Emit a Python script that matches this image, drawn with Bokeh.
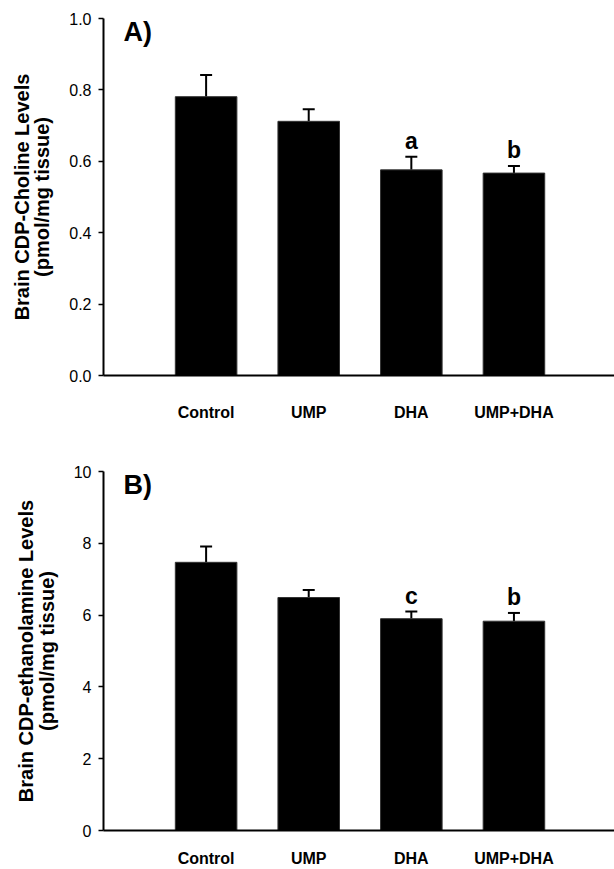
from bokeh.plotting import figure
from bokeh.models import (Range1d, FixedTicker, PrintfTickFormatter, Whisker,
                          TeeHead, ColumnDataSource)
from bokeh.layouts import column
from bokeh.embed import file_html
from bokeh.resources import INLINE
from bokeh.core.properties import value

# ---- data ----
categories = ["Control", "UMP", "DHA", "UMP+DHA"]
positions = [1, 2, 3, 4]

choline_mean = [0.781, 0.712, 0.576, 0.567]
choline_sem = [0.061, 0.034, 0.037, 0.020]
choline_letters = ["", "", "a", "b"]
choline_ticks = [0.0, 0.2, 0.4, 0.6, 0.8, 1.0]

ethanol_mean = [7.47, 6.49, 5.90, 5.83]
ethanol_sem = [0.44, 0.21, 0.20, 0.23]
ethanol_letters = ["", "", "c", "b"]
ethanol_ticks = [0, 2, 4, 6, 8, 10]

FONT = "Liberation Sans"


def make_panel(means, sems, letters, ticks, ymax, fmt, ytitle, panel,
               height, b_top, b_bottom, label_standoff):
    p = figure(width=614, height=height, output_backend="svg",
               toolbar_location=None, x_range=Range1d(0, 4.98),
               y_range=Range1d(0, ymax),
               min_border_left=103, min_border_right=0,
               min_border_top=b_top, min_border_bottom=b_bottom)
    p.outline_line_color = None
    p.xgrid.grid_line_color = None
    p.ygrid.grid_line_color = None
    p.background_fill_color = "white"
    p.border_fill_color = "white"

    src = ColumnDataSource(dict(
        x=positions, top=means,
        upper=[m + s for m, s in zip(means, sems)],
        letter=letters,
    ))
    p.vbar(x="x", top="top", width=0.6, source=src,
           fill_color="black", line_color="#333333", line_width=1)
    p.add_layout(Whisker(base="x", lower="top", upper="upper", source=src,
                         lower_head=None,
                         upper_head=TeeHead(size=12, line_width=2,
                                            line_color="black"),
                         line_width=2, line_color="black"))
    p.text(x="x", y="upper", text="letter", source=src,
           text_font=value(FONT), text_font_style="bold",
           text_font_size="23px", text_align="center",
           text_baseline="alphabetic", y_offset=-16, text_color="black")
    p.text(x=[0], y=[ymax], text=[panel], x_offset=20, y_offset=13,
           text_font=value(FONT), text_font_style="bold",
           text_font_size="27px", text_align="left",
           text_baseline="alphabetic", text_color="black")

    # x axis
    xa = p.xaxis[0]
    xa.ticker = FixedTicker(ticks=positions)
    xa.major_label_overrides = {pos: c for pos, c in zip(positions, categories)}
    xa.major_tick_line_color = None
    xa.minor_tick_line_color = None
    xa.axis_line_width = 2
    xa.axis_line_color = "black"
    xa.major_label_text_font = FONT
    xa.major_label_text_font_style = "bold"
    xa.major_label_text_font_size = "16px"
    xa.major_label_text_color = "black"
    xa.major_label_standoff = label_standoff

    # y axis
    ya = p.yaxis[0]
    ya.ticker = FixedTicker(ticks=ticks)
    ya.formatter = PrintfTickFormatter(format=fmt)
    ya.minor_tick_line_color = None
    ya.major_tick_in = 0
    ya.major_tick_out = 5
    ya.major_tick_line_width = 1.5
    ya.axis_line_width = 2
    ya.axis_line_color = "black"
    ya.major_label_text_font = FONT
    ya.major_label_text_font_size = "16px"
    ya.major_label_text_color = "black"
    ya.major_label_standoff = 7
    ya.axis_label = ytitle
    ya.axis_label_text_font = FONT
    ya.axis_label_text_font_style = "bold"
    ya.axis_label_text_font_size = "20px"
    ya.axis_label_text_color = "black"
    ya.axis_label_text_line_height = 0.92
    ya.axis_label_standoff = 13
    return p


pa = make_panel(choline_mean, choline_sem, choline_letters, choline_ticks,
                1.0, "%.1f",
                "Brain CDP-Choline Levels\n(pmol/mg tissue)", "A)",
                height=440, b_top=18, b_bottom=65, label_standoff=22)
pb = make_panel(ethanol_mean, ethanol_sem, ethanol_letters, ethanol_ticks,
                10, "%d",
                "Brain CDP-ethanolamine Levels\n(pmol/mg tissue)", "B)",
                height=429, b_top=31, b_bottom=39, label_standoff=13)

layout = column(pa, pb, spacing=0)
open("out.html", "w").write(file_html(layout, INLINE))
